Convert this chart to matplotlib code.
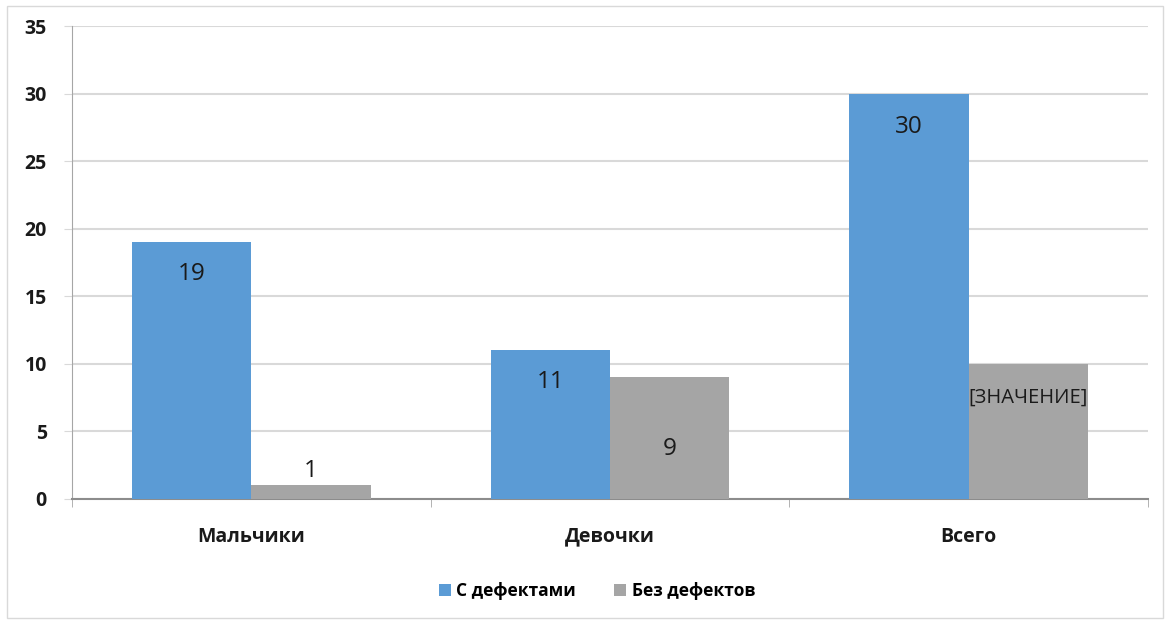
import matplotlib.pyplot as plt
import numpy as np
from matplotlib.patches import Rectangle

plt.rcParams['font.family'] = ['Open Sans', 'DejaVu Sans']

categories = ['Мальчики', 'Девочки', 'Всего']
with_defects = [19, 11, 30]
without_defects = [1, 9, 10]
labels_with = ['19', '11', '30']
labels_without = ['1', '9', '[ЗНАЧЕНИЕ]']
# label offsets from the bar top, in pixels (as Excel placed them)
off_with = [-32, -32, -33]
off_without = [14, -72, -34]

blue = '#5B9BD5'
gray = '#A5A5A5'

fig = plt.figure(figsize=(11.7, 6.25), dpi=100)
ax = fig.add_axes([72 / 1170, 1 - 499 / 625, (1148 - 72) / 1170, (499 - 26) / 625])

x = np.arange(len(categories)) + 0.5
w = 0.333
b1 = ax.bar(x - w / 2, with_defects, w, color=blue, label='С дефектами', zorder=3)
b2 = ax.bar(x + w / 2, without_defects, w, color=gray, label='Без дефектов', zorder=3)

px = 0.72  # points per pixel at dpi 100
for rect, txt, off in zip(b1, labels_with, off_with):
    ax.annotate(txt, (rect.get_x() + rect.get_width() / 2, rect.get_height()),
                xytext=(0, off * px), textcoords='offset points',
                ha='center', va='center', fontsize=17.5, color='#1a1a1a', zorder=4)
for rect, txt, off in zip(b2, labels_without, off_without):
    ax.annotate(txt, (rect.get_x() + rect.get_width() / 2, rect.get_height()),
                xytext=(0, off * px), textcoords='offset points',
                ha='center', va='center', fontsize=17.5 if len(txt) < 4 else 14.5,
                color='#1a1a1a', zorder=4)

ax.set_xlim(0, 3)
ax.set_ylim(0, 35)
ax.set_yticks(range(0, 36, 5))
ax.yaxis.grid(True, color='#D9D9D9', linewidth=1.5, zorder=0)
ax.set_xticks(x)
ax.set_xticklabels(categories, fontsize=14, fontweight='bold', color='#1a1a1a')
ax.set_xticks([0, 1, 2, 3], minor=True)
ax.tick_params(axis='x', which='major', length=0, pad=20)
ax.tick_params(axis='x', which='minor', length=6, color='#A6A6A6', direction='out')
ax.tick_params(axis='y', length=6, color='#D9D9D9', labelsize=14, labelcolor='#1a1a1a', pad=12)
for lbl in ax.get_yticklabels():
    lbl.set_fontweight('bold')

for s in ['top', 'right']:
    ax.spines[s].set_visible(False)
ax.spines['left'].set_color('#A6A6A6')
ax.spines['bottom'].set_color('#8C8C8C')
ax.spines['bottom'].set_linewidth(1.5)

fig.legend(loc='center', bbox_to_anchor=(597 / 1170, 1 - 591 / 625), ncol=2,
           frameon=False, handlelength=0.7, handleheight=0.7,
           handletextpad=0.3, columnspacing=2.2,
           prop={'size': 12.5, 'weight': 'bold'})

fig.patches.append(Rectangle((7 / 1170, 7 / 625), 1156 / 1170, 612 / 625,
                             transform=fig.transFigure, fill=False,
                             edgecolor='#D9D9D9', linewidth=1))

fig.savefig('out.png', dpi=100)
